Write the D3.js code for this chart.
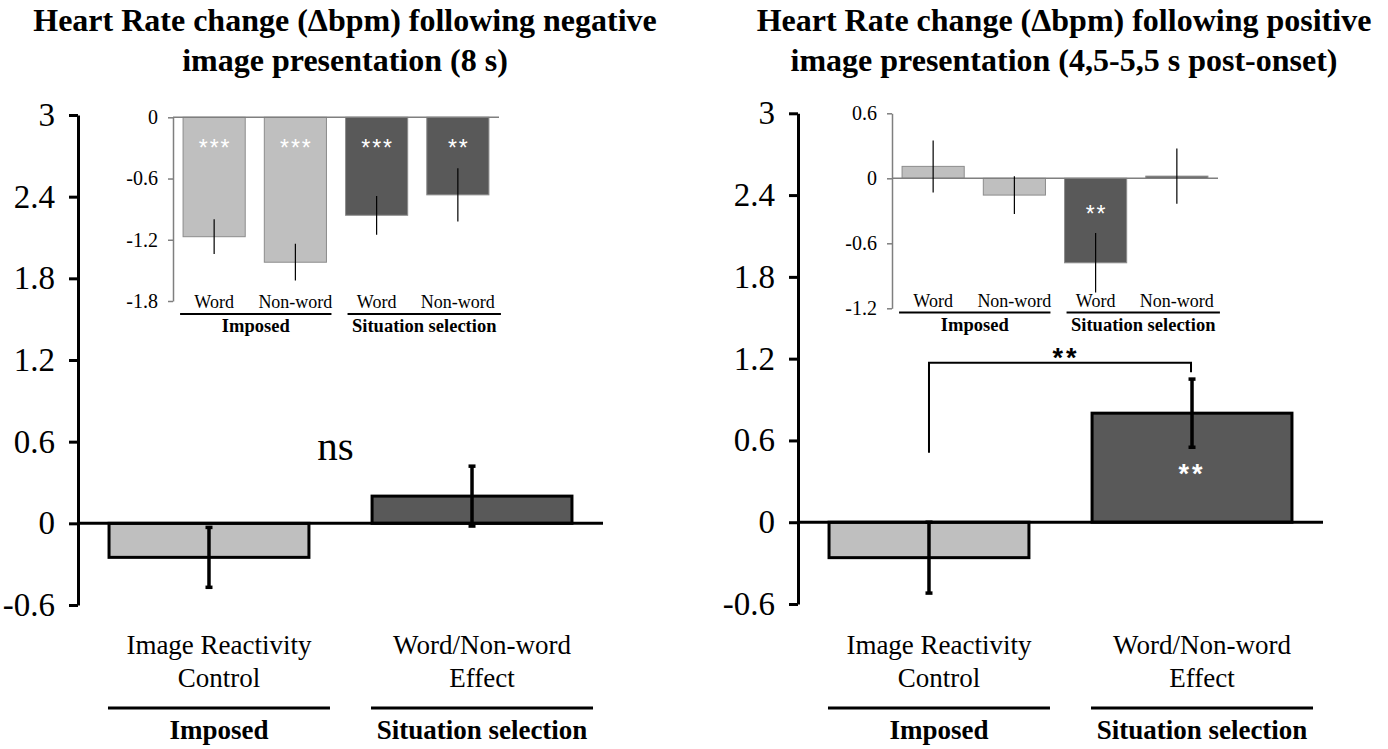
<!DOCTYPE html>
<html>
<head>
<meta charset="utf-8">
<script src="https://cdn.jsdelivr.net/npm/d3@7"></script>
<style>
  html, body { margin: 0; padding: 0; background: #ffffff; }
  svg { display: block; }
  text { font-family: "Liberation Serif", "Times New Roman", serif; fill: #000; }
  text.sym { font-family: "Liberation Sans", Arial, sans-serif; }
</style>
</head>
<body>
<svg id="chart" width="1388" height="749"></svg>
<script>
// ---- data ----
const mainCategories = ["Image Reactivity Control", "Word/Non-word Effect"];
const mainLabelLines = [["Image Reactivity", "Control"], ["Word/Non-word", "Effect"]];
const groupLabels = ["Imposed", "Situation selection"];
const mainTicks = [-0.6, 0, 0.6, 1.2, 1.8, 2.4, 3];

const negMeans = [-0.25, 0.20];
const negErrors = [0.22, 0.22];
const posMeans = [-0.26, 0.80];
const posErrors = [0.26, 0.25];
const posBarStars = ["", "**"];
const posBracket = [0.51, 1.17, 1.10];   // left leg start, bracket top, right leg end

const insetCategories = ["Word", "Non-word", "Word", "Non-word"];
const insetGroups = ["Imposed", "Imposed", "Situation selection", "Situation selection"];
const negInsetMeans = [-1.17, -1.42, -0.96, -0.76];
const negInsetErrors = [0.17, 0.18, 0.19, 0.26];
const negInsetStars = ["***", "***", "***", "**"];
const negInsetTicks = [0, -0.6, -1.2, -1.8];
const posInsetMeans = [0.11, -0.155, -0.78, 0.02];
const posInsetErrors = [0.24, 0.175, 0.275, 0.255];
const posInsetStars = ["", "", "**", ""];
const posInsetTicks = [0.6, 0, -0.6, -1.2];

const titles = [
  ["Heart Rate change (\u0394bpm) following negative", "image presentation (8 s)"],
  ["Heart Rate change (\u0394bpm) following positive", "image presentation (4,5-5,5 s post-onset)"]
];

const LIGHT = "#bfbfbf", DARK = "#595959";
const svg = d3.select("#chart");

// ---- main panel ----
function mainPanel(opt) {
  const g = svg.append("g");
  const y = d3.scaleLinear().domain([-0.6, 3]).range([opt.yBottom, opt.yTop]);
  const x = d3.scaleBand().domain(d3.range(mainCategories.length))
    .range([opt.axisX, opt.axisX + 525]).paddingInner(0.24).paddingOuter(0.118);

  // title
  opt.title.forEach((line, i) => {
    g.append("text").attr("x", opt.titleX).attr("y", 31 + i * 40)
      .attr("text-anchor", "middle").attr("font-weight", "bold")
      .attr("font-size", 32).text(line);
  });

  // bars
  g.selectAll("rect.bar").data(opt.means).join("rect")
    .attr("class", "bar")
    .attr("x", (d, i) => x(i))
    .attr("width", x.bandwidth())
    .attr("y", d => y(Math.max(0, d)))
    .attr("height", d => Math.abs(y(d) - y(0)))
    .attr("fill", (d, i) => i === 0 ? LIGHT : DARK)
    .attr("stroke", "#000").attr("stroke-width", 3);

  // zero line
  g.append("line").attr("x1", opt.axisX).attr("x2", opt.axisX + 525)
    .attr("y1", y(0)).attr("y2", y(0))
    .attr("stroke", "#000").attr("stroke-width", 3);

  // y axis
  const ax = g.append("g").attr("transform", `translate(${opt.axisX},0)`)
    .call(d3.axisLeft(y).tickValues(mainTicks).tickSize(9).tickSizeOuter(0)
      .tickPadding(14).tickFormat(d => String(d)));
  ax.select(".domain").attr("stroke", "#000").attr("stroke-width", 3);
  ax.selectAll(".tick line").attr("stroke", "#000").attr("stroke-width", 3);
  ax.selectAll(".tick text").attr("font-size", 33).attr("fill", "#000");

  // error bars
  const cx = i => x(i) + x.bandwidth() / 2;
  opt.means.forEach((m, i) => {
    const e = opt.errors[i];
    g.append("line").attr("x1", cx(i)).attr("x2", cx(i))
      .attr("y1", y(m + e)).attr("y2", y(m - e))
      .attr("stroke", "#000").attr("stroke-width", 3.5);
    [m + e, m - e].forEach(v => {
      g.append("line").attr("x1", cx(i) - 3.5).attr("x2", cx(i) + 3.5)
        .attr("y1", y(v)).attr("y2", y(v))
        .attr("stroke", "#000").attr("stroke-width", 3.5);
    });
  });

  // category labels beneath the axis
  mainLabelLines.forEach((lines, i) => {
    const lx = cx(i) + 10;
    lines.forEach((t, k) => {
      g.append("text").attr("x", lx).attr("y", 654 + k * 33)
        .attr("text-anchor", "middle").attr("font-size", 27).text(t);
    });
    g.append("line").attr("x1", lx - 111).attr("x2", lx + 111)
      .attr("y1", 708).attr("y2", 708).attr("stroke", "#000").attr("stroke-width", 3);
    g.append("text").attr("x", lx).attr("y", 739)
      .attr("text-anchor", "middle").attr("font-size", 27)
      .attr("font-weight", "bold").text(groupLabels[i]);
  });

  return { g, x, y, cx };
}

// ---- inset panel ----
function insetPanel(opt) {
  const g = svg.append("g");
  const y = d3.scaleLinear().domain(opt.domain).range([opt.yBottom, opt.yTop]);
  const x = d3.scaleBand().domain(d3.range(insetCategories.length))
    .range([opt.axisX, opt.axisX + 326]).paddingInner(0.235).paddingOuter(0.124);
  const cx = i => x(i) + x.bandwidth() / 2;

  g.selectAll("rect").data(opt.means).join("rect")
    .attr("x", (d, i) => x(i))
    .attr("width", x.bandwidth())
    .attr("y", d => y(Math.max(0, d)))
    .attr("height", d => Math.abs(y(d) - y(0)))
    .attr("fill", (d, i) => insetGroups[i] === "Imposed" ? LIGHT : DARK)
    .attr("stroke", "#8c8c8c").attr("stroke-width", 1);

  g.append("line").attr("x1", opt.axisX).attr("x2", opt.axisX + 326)
    .attr("y1", y(0)).attr("y2", y(0))
    .attr("stroke", "#7f7f7f").attr("stroke-width", 1.5);

  const ax = g.append("g").attr("transform", `translate(${opt.axisX},0)`)
    .call(d3.axisLeft(y).tickValues(opt.ticks).tickSize(5).tickSizeOuter(0)
      .tickPadding(10).tickFormat(d => String(d)));
  ax.select(".domain").attr("stroke", "#7f7f7f").attr("stroke-width", 1.5);
  ax.selectAll(".tick line").attr("stroke", "#7f7f7f").attr("stroke-width", 1.5);
  ax.selectAll(".tick text").attr("font-size", 20).attr("fill", "#000");

  opt.means.forEach((m, i) => {
    const e = opt.errors[i];
    g.append("line").attr("x1", cx(i)).attr("x2", cx(i))
      .attr("y1", y(m + e)).attr("y2", y(m - e))
      .attr("stroke", "#000").attr("stroke-width", 1.2);
    if (opt.stars[i]) {
      g.append("text").attr("class", "sym").attr("x", cx(i) + 1).attr("y", y(0) + opt.starDy)
        .attr("text-anchor", "middle")
        .attr("font-size", 23).attr("letter-spacing", 2)
        .style("fill", "#fff").text(opt.stars[i]);
    }
    g.append("text").attr("x", cx(i)).attr("y", opt.labelY)
      .attr("text-anchor", "middle").attr("font-size", 18).text(insetCategories[i]);
  });

  // group underlines and labels
  const underlinePad = [[-3, 5], [2, 12]];
  groupLabels.forEach((name, gi) => {
    const idx = insetGroups.map((d, i) => d === name ? i : -1).filter(i => i >= 0);
    const x0 = x(idx[0]) + underlinePad[gi][0];
    const x1 = x(idx[idx.length - 1]) + x.bandwidth() + underlinePad[gi][1];
    g.append("line").attr("x1", x0).attr("x2", x1)
      .attr("y1", opt.labelY + 6).attr("y2", opt.labelY + 6)
      .attr("stroke", "#000").attr("stroke-width", 2);
    g.append("text").attr("x", (x0 + x1) / 2).attr("y", opt.labelY + 24)
      .attr("text-anchor", "middle").attr("font-size", 18.5)
      .attr("font-weight", "bold").text(name);
  });
}

// negative images (left)
const left = mainPanel({ axisX: 78, yTop: 115, yBottom: 605, titleX: 345,
  title: titles[0], means: negMeans, errors: negErrors });
left.g.append("text")
  .attr("x", (left.cx(0) + left.cx(1)) / 2 - 5).attr("y", 460)
  .attr("text-anchor", "middle").attr("font-size", 41).text("ns");

insetPanel({ axisX: 173, yTop: 117.3, yBottom: 301, domain: [-1.8, 0],
  ticks: negInsetTicks, means: negInsetMeans, errors: negInsetErrors,
  stars: negInsetStars, starDy: 39, labelY: 308 });

// positive images (right)
const right = mainPanel({ axisX: 798, yTop: 113.3, yBottom: 604, titleX: 1064,
  title: titles[1], means: posMeans, errors: posErrors });

posBarStars.forEach((s, i) => {
  if (!s) return;
  right.g.append("text").attr("class", "sym")
    .attr("x", right.cx(i)).attr("y", right.y(posMeans[i] / 2) + 15)
    .attr("text-anchor", "middle")
    .attr("font-weight", "bold").attr("font-size", 27).attr("letter-spacing", 3)
    .style("fill", "#fff").text(s);
});

// significance bracket between the two conditions
const bx0 = right.cx(0), bx1 = right.cx(1) - 1;
right.g.append("path")
  .attr("d", d3.line()([[bx0, right.y(posBracket[0])], [bx0, right.y(posBracket[1])],
                        [bx1, right.y(posBracket[1])], [bx1, right.y(posBracket[2])]]))
  .attr("fill", "none").attr("stroke", "#000").attr("stroke-width", 2);
right.g.append("text").attr("class", "sym")
  .attr("x", (bx0 + bx1) / 2 + 6).attr("y", right.y(posBracket[1]) + 4)
  .attr("text-anchor", "middle")
  .attr("font-weight", "bold").attr("font-size", 27).attr("letter-spacing", 3).text("**");

insetPanel({ axisX: 892, yTop: 113.3, yBottom: 308.3, domain: [-1.2, 0.6],
  ticks: posInsetTicks, means: posInsetMeans, errors: posInsetErrors,
  stars: posInsetStars, starDy: 44, labelY: 306.5 });
</script>
</body>
</html>
